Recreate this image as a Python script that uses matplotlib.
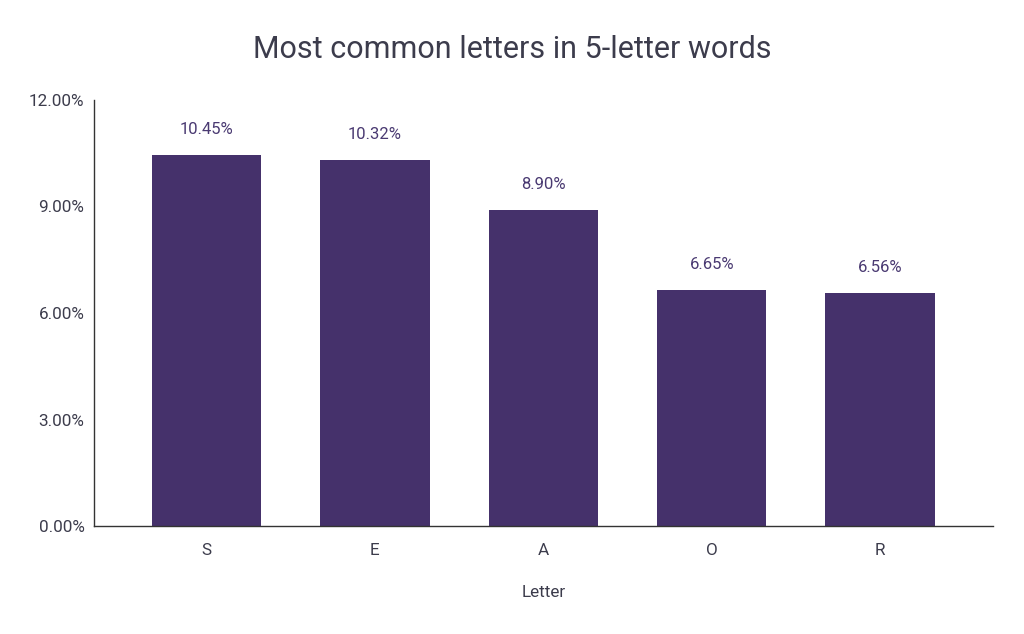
import matplotlib
matplotlib.use("Agg")
import matplotlib.pyplot as plt
from matplotlib.ticker import FuncFormatter

plt.rcParams["font.family"] = ["Roboto", "DejaVu Sans"]

# data
letters = ["S", "E", "A", "O", "R"]
shares = [10.45, 10.32, 8.90, 6.65, 6.56]
y_ticks = [0, 3, 6, 9, 12]

bar_color = "#45316b"
label_color = "#4a3a72"
text_color = "#3c3c4c"

fig = plt.figure(figsize=(10.24, 6.34), dpi=100)
ax = fig.add_axes([93.5 / 1024, 108 / 634, 899.5 / 1024, 426 / 634])

x = list(range(len(letters)))
bars = ax.bar(x, shares, width=0.65, color=bar_color, zorder=2)

for xi, v in zip(x, shares):
    ax.annotate("{:.2f}%".format(v), (xi, v), xytext=(0, 13), textcoords="offset points",
                ha="center", va="bottom", fontsize=12, color=label_color)

ax.set_xlim(-0.67, 4.67)
ax.set_ylim(0, 12)
ax.set_yticks(y_ticks)
ax.yaxis.set_major_formatter(FuncFormatter(lambda v, p: "{:.2f}%".format(v)))
ax.set_xticks(x)
ax.set_xticklabels(letters)
ax.tick_params(axis="both", length=0, labelsize=12.3, labelcolor=text_color)
ax.tick_params(axis="y", pad=6.5)
ax.tick_params(axis="x", pad=12)

for side in ["top", "right"]:
    ax.spines[side].set_visible(False)
for side in ["left", "bottom"]:
    ax.spines[side].set_color("#333333")
    ax.spines[side].set_linewidth(1)

ax.set_xlabel("Letter", fontsize=12.3, color=text_color, labelpad=20)
fig.text(0.5, 1 - 50 / 634, "Most common letters in 5-letter words", ha="center", va="center",
         fontsize=22, color=text_color)

fig.savefig("out.png", dpi=100)
